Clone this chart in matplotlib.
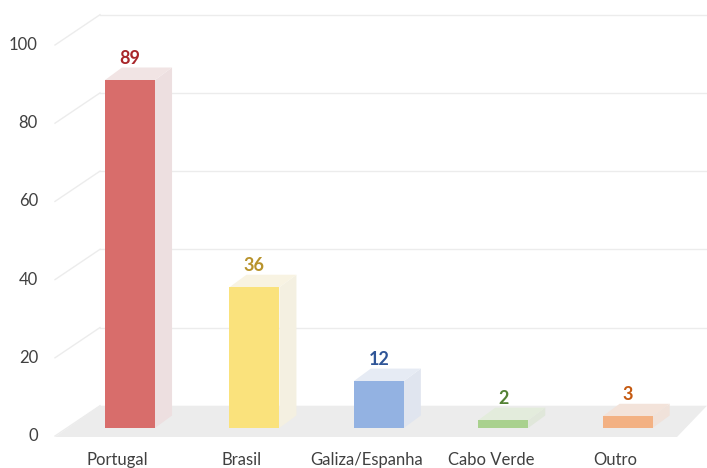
import matplotlib
matplotlib.use('Agg')
import matplotlib.pyplot as plt
from matplotlib.patches import Polygon

# data
categories = ['Portugal', 'Brasil', 'Galiza/Espanha', 'Cabo Verde', 'Outro']
values = [89, 36, 12, 2, 3]
front_colors = ['#d86d6b', '#fae27c', '#93b2e2', '#a9d18e', '#f3b183']
side_colors = ['#eddfe0', '#f4f0e1', '#e0e5ef', '#e0e7da', '#f0e2da']
top_colors = ['#f1e4e4', '#f8f3e2', '#e6ebf4', '#e3ecdc', '#f3e3da']
label_colors = ['#a8262a', '#b8932c', '#2f5597', '#548235', '#c55a11']
yticks = [0, 20, 40, 60, 80, 100]

plt.rcParams['font.family'] = ['Lato', 'DejaVu Sans']

fig = plt.figure(figsize=(7.07, 4.68), dpi=100)
ax = fig.add_axes([0, 0, 1, 1])
ax.set_xlim(-1.045, 4.638)
ax.set_ylim(-10.23, 109.46)
ax.axis('off')

# 3d offsets (data units)
DX, DY = 0.137, 3.2          # bar depth
WALL_L, WALL_B = -0.603, -0.241
BACK = 5.7
W = 0.402

# floor
floor = Polygon([(WALL_L, -2.3), (4.397, -2.3), (4.638, BACK), (WALL_B, BACK)],
                closed=True, facecolor='#ececec', edgecolor='none', zorder=1)
ax.add_patch(floor)

# back gridlines + left wall diagonals + tick labels
for v in yticks:
    if v > 0:
        ax.plot([WALL_B, 4.7], [v + BACK, v + BACK], color='#ececec', lw=1, zorder=0)
    ax.plot([WALL_L, WALL_B], [v - 2.05, v + BACK], color='#ececec', lw=1, zorder=0)
    ax.text(-0.74, v - 2.05, str(v), ha='right', va='center', fontsize=12, color='#404040')

# bars
xs = list(range(len(categories)))
ax.bar(xs, values, width=W, color=front_colors, zorder=3)
for i, v in enumerate(values):
    xl, xr = i - W / 2, i + W / 2
    side = Polygon([(xr, 0), (xr + DX, DY), (xr + DX, v + DY), (xr, v)],
                   facecolor=side_colors[i], edgecolor='none', zorder=2)
    top = Polygon([(xl, v), (xr, v), (xr + DX, v + DY), (xl + DX, v + DY)],
                  facecolor=top_colors[i], edgecolor='none', zorder=2)
    ax.add_patch(side)
    ax.add_patch(top)
    ax.text(i, v + 3.4, str(v), ha='center', va='bottom', fontsize=13,
            fontweight='bold', color=label_colors[i], zorder=4)
    ax.text(i - 0.1, -8.3, categories[i], ha='center', va='center', fontsize=12, color='#404040')

fig.savefig('out.png', dpi=100)
